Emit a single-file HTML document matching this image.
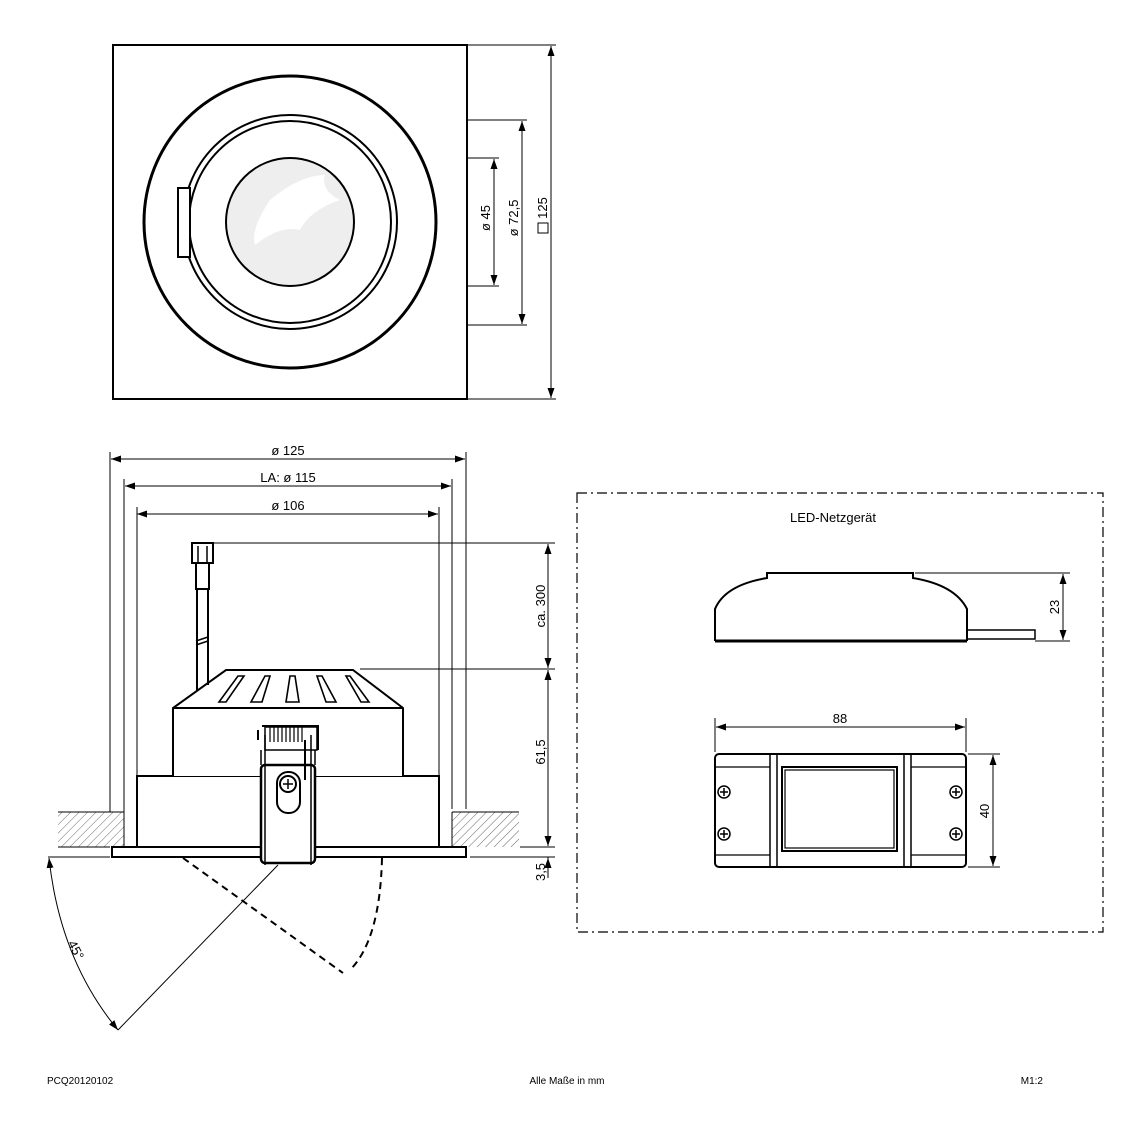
<!DOCTYPE html>
<html><head><meta charset="utf-8"><style>
html,body{margin:0;padding:0;background:#fff}
svg{display:block}
text{font-family:"Liberation Sans",sans-serif;fill:#000}
</style></head><body>
<svg width="1134" height="1134" viewBox="0 0 1134 1134" xmlns="http://www.w3.org/2000/svg">
<defs>
<marker id="a" viewBox="0 0 10 10" refX="10" refY="5" markerWidth="10" markerHeight="10" markerUnits="userSpaceOnUse" orient="auto-start-reverse"><path d="M0,1.5 L10,5 L0,8.5z" fill="#000"/></marker>
<pattern id="h" width="6" height="6" patternUnits="userSpaceOnUse" patternTransform="rotate(45)"><line x1="0" y1="0" x2="0" y2="6" stroke="#444" stroke-width="0.8"/></pattern>
</defs>
<g fill="none" stroke="#000">
<!-- top view -->
<rect x="113" y="45" width="354" height="354" stroke-width="2"/>
<circle cx="290" cy="222" r="146" stroke-width="3"/>
<circle cx="290" cy="222" r="107" stroke-width="2"/>
<circle cx="290" cy="222" r="101" stroke-width="2"/>
<circle cx="290" cy="222" r="64" stroke-width="2" fill="#eee"/>
<path d="M255,245 Q280,225 300,230 Q310,210 340,200 Q320,190 325,175 Q300,175 270,200 Q250,230 255,245z" fill="#fff" stroke="none"/>
<rect x="178" y="188" width="12" height="69" stroke-width="2" fill="#fff"/>
<g stroke-width="1">
<line x1="468" y1="45" x2="556" y2="45"/><line x1="468" y1="399" x2="556" y2="399"/>
<line x1="468" y1="120" x2="527" y2="120"/><line x1="468" y1="325" x2="527" y2="325"/>
<line x1="468" y1="158" x2="499" y2="158"/><line x1="468" y1="286" x2="499" y2="286"/>
<line x1="551" y1="46" x2="551" y2="398" marker-start="url(#a)" marker-end="url(#a)"/>
<line x1="522" y1="121" x2="522" y2="324" marker-start="url(#a)" marker-end="url(#a)"/>
<line x1="494" y1="159" x2="494" y2="285" marker-start="url(#a)" marker-end="url(#a)"/>
</g>
<rect x="538" y="223" width="10" height="10" stroke-width="1"/>

<!-- side view dims -->
<g stroke-width="1">
<line x1="111" y1="459" x2="465" y2="459" marker-start="url(#a)" marker-end="url(#a)"/>
<line x1="125" y1="486" x2="451" y2="486" marker-start="url(#a)" marker-end="url(#a)"/>
<line x1="137" y1="514" x2="438" y2="514" marker-start="url(#a)" marker-end="url(#a)"/>
<line x1="110" y1="452" x2="110" y2="812"/><line x1="466" y1="452" x2="466" y2="809"/>
<line x1="124" y1="479" x2="124" y2="812"/><line x1="452" y1="479" x2="452" y2="809"/>
<line x1="137" y1="507" x2="137" y2="776"/><line x1="439" y1="507" x2="439" y2="776"/>
<line x1="213" y1="543" x2="555" y2="543"/><line x1="360" y1="669" x2="555" y2="669"/>
<line x1="520" y1="847" x2="555" y2="847"/><line x1="470" y1="857" x2="555" y2="857"/>
<line x1="548" y1="544" x2="548" y2="668" marker-start="url(#a)" marker-end="url(#a)"/>
<line x1="548" y1="670" x2="548" y2="846" marker-start="url(#a)" marker-end="url(#a)"/>
<line x1="548" y1="870" x2="548" y2="858" marker-end="url(#a)"/>
<line x1="548" y1="857" x2="548" y2="878"/>
</g>
<!-- ceiling -->
<rect x="58" y="812" width="66" height="35" fill="url(#h)" stroke="none"/>
<line x1="124" y1="812" x2="124" y2="847" stroke-width="1"/>
<line x1="58" y1="812" x2="124" y2="812" stroke-width="1"/>
<line x1="58" y1="847" x2="110" y2="847" stroke-width="1"/>
<rect x="452" y="812" width="67" height="35" fill="url(#h)" stroke="none"/>
<line x1="452" y1="812" x2="452" y2="847" stroke-width="1"/>
<line x1="452" y1="812" x2="519" y2="812" stroke-width="1"/>
<line x1="48" y1="857" x2="110" y2="857" stroke-width="1"/>
<!-- lamp -->
<rect x="112" y="847" width="354" height="10" stroke-width="2" fill="#fff"/>
<rect x="137" y="776" width="302" height="71" stroke-width="2" fill="#fff"/>
<path d="M173,776 V708 L226,670 H353 L403,708 V776" stroke-width="2" fill="#fff"/>
<line x1="173" y1="708" x2="403" y2="708" stroke-width="2"/>
<g stroke-width="1.6">
<path d="M238,676 L244,676 L226,702 L219,702z"/>
<path d="M265,676 L270,676 L262,702 L251,702z"/>
<path d="M290,676 L295,676 L299,702 L286,702z"/>
<path d="M317,676 L322,676 L336,702 L326,702z"/>
<path d="M346,676 L350,676 L369,702 L361,702z"/>
</g>
<path d="M197,589 V690 M208,589 V685" stroke-width="2"/>
<path d="M196,641 L208,637 M196,645 L208,641" stroke-width="1.5"/>
<rect x="192" y="543" width="21" height="20" stroke-width="2" fill="#fff"/>
<rect x="196" y="563" width="13" height="26" stroke-width="2" fill="#fff"/>
<line x1="198" y1="546" x2="198" y2="563" stroke-width="1.5"/><line x1="207" y1="546" x2="207" y2="563" stroke-width="1.5"/>
<!-- clip -->
<path d="M258,730 V740 M262,726 H318 V750" stroke-width="2"/>
<rect x="265" y="727" width="52" height="23" stroke-width="1.5" fill="#fff"/>
<path d="M270,727 V742 M274,727 V742 M278,727 V742 M282,727 V742 M286,727 V742 M290,727 V742 M294,727 V742 M298,727 V742 M302,727 V742" stroke-width="1.2"/>
<rect x="261" y="765" width="54" height="98" rx="4" stroke-width="2.5" fill="#fff"/>
<path d="M261,750 V765 M315,750 V765 M265,735 V865 M311,735 V865" stroke-width="1.5"/>
<line x1="305" y1="740" x2="305" y2="780" stroke-width="2"/>
<rect x="277" y="772" width="23" height="41" rx="11" stroke-width="2"/>
<circle cx="288" cy="784" r="8" stroke-width="2"/>
<path d="M283,784 H293 M288,779 V789" stroke-width="1.5"/>
<!-- angle -->
<line x1="278" y1="865" x2="118" y2="1030" stroke-width="1"/>
<path d="M49,858 Q60,960 118,1030" stroke-width="1" marker-start="url(#a)" marker-end="url(#a)"/>
<path d="M183,858 L343,973" stroke-width="2" stroke-dasharray="7,5"/>
<path d="M382,858 Q380,940 350,970" stroke-width="2" stroke-dasharray="7,5"/>

<!-- LED box -->
<rect x="577" y="493" width="526" height="439" stroke-width="1.2" stroke-dasharray="10,4,2,4"/>
<path d="M715,641 V609 Q725,585 767,578 V573 H913 V578 Q955,585 967,609 V641" stroke-width="2" fill="#fff"/>
<line x1="715" y1="641" x2="967" y2="641" stroke-width="3"/>
<path d="M967,630 H1035 V639 H967" stroke-width="1.5"/>
<g stroke-width="1">
<line x1="915" y1="573" x2="1070" y2="573"/><line x1="1035" y1="641" x2="1070" y2="641"/>
<line x1="1063" y1="574" x2="1063" y2="640" marker-start="url(#a)" marker-end="url(#a)"/>
<line x1="715" y1="718" x2="715" y2="752"/><line x1="966" y1="718" x2="966" y2="752"/>
<line x1="716" y1="727" x2="965" y2="727" marker-start="url(#a)" marker-end="url(#a)"/>
<line x1="968" y1="754" x2="1000" y2="754"/><line x1="968" y1="867" x2="1000" y2="867"/>
<line x1="993" y1="755" x2="993" y2="866" marker-start="url(#a)" marker-end="url(#a)"/>
</g>
<rect x="715" y="754" width="251" height="113" rx="4" stroke-width="2" fill="#fff"/>
<rect x="770" y="754" width="7" height="113" stroke-width="1.5"/>
<rect x="904" y="754" width="7" height="113" stroke-width="1.5"/>
<path d="M715,767 H770 M715,855 H770 M911,767 H966 M911,855 H966" stroke-width="1.2"/>
<rect x="782" y="767" width="115" height="84" stroke-width="2"/>
<rect x="785" y="770" width="109" height="78" stroke-width="1.2"/>
<g stroke-width="1.5">
<circle cx="724" cy="792" r="6"/><circle cx="724" cy="834" r="6"/>
<circle cx="956" cy="792" r="6"/><circle cx="956" cy="834" r="6"/>
<path d="M720,792 H728 M724,788 V796 M720,834 H728 M724,830 V838 M952,792 H960 M956,788 V796 M952,834 H960 M956,830 V838"/>
</g>
</g>
<g font-size="13">
<text x="288" y="455" text-anchor="middle">ø 125</text>
<text x="288" y="482" text-anchor="middle">LA: ø 115</text>
<text x="288" y="510" text-anchor="middle">ø 106</text>
<text x="833" y="522" text-anchor="middle">LED-Netzgerät</text>
<text x="840" y="723" text-anchor="middle">88</text>
<text transform="translate(490,218) rotate(-90)" text-anchor="middle">ø 45</text>
<text transform="translate(518,218) rotate(-90)" text-anchor="middle">ø 72,5</text>
<text transform="translate(547,208) rotate(-90)" text-anchor="middle">125</text>
<text transform="translate(545,606) rotate(-90)" text-anchor="middle">ca. 300</text>
<text transform="translate(545,752) rotate(-90)" text-anchor="middle">61,5</text>
<text transform="translate(545,872) rotate(-90)" text-anchor="middle">3,5</text>
<text transform="translate(1059,607) rotate(-90)" text-anchor="middle">23</text>
<text transform="translate(989,811) rotate(-90)" text-anchor="middle">40</text>
<text transform="translate(72,952) rotate(62)" text-anchor="middle">45°</text>
</g>
<g font-size="10">
<text x="47" y="1084">PCQ20120102</text>
<text x="567" y="1084" text-anchor="middle">Alle Maße in mm</text>
<text x="1043" y="1084" text-anchor="end">M1:2</text>
</g>
</svg>
</body></html>
